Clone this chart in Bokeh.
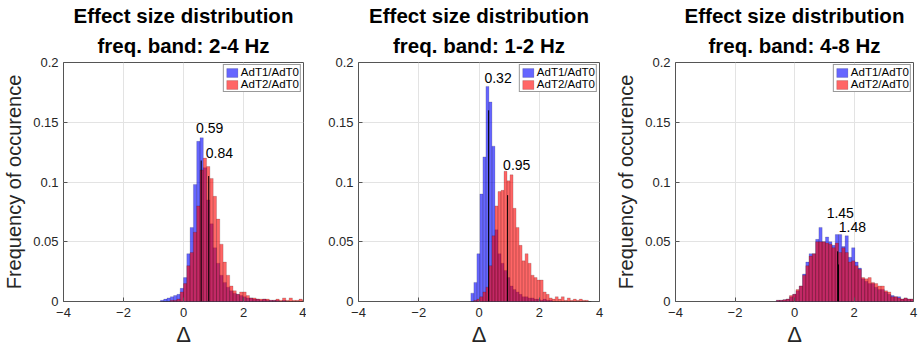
import numpy as np
from bokeh.plotting import figure
from bokeh.layouts import row
from bokeh.models import Range1d, Legend, LegendItem, FixedTicker, Title
from bokeh.core.properties import value
from bokeh.embed import file_html
from bokeh.resources import INLINE

FONT = "Liberation Sans"

# ---------------- data ----------------
bands = ["2-4 Hz", "1-2 Hz", "4-8 Hz"]
series_names = ["AdT1/AdT0", "AdT2/AdT0"]

# histogram bins: first left edge and bin width per panel
bin_start = [-0.77, -0.27, -0.61]
bin_width = [0.11, 0.10, 0.11]

# panel 1 : 2-4 Hz
p1_adt1 = [0.001, 0.002, 0.003, 0.004, 0.005, 0.006, 0.011, 0.020, 0.040, 0.062,
           0.098, 0.134, 0.137, 0.112, 0.085, 0.065, 0.045, 0.032, 0.022, 0.016,
           0.012, 0.009, 0.007, 0.006, 0.005, 0.004, 0.003, 0.003, 0.002, 0.002,
           0.001, 0.002, 0.001, 0.001, 0.001, 0.001, 0.000, 0.001, 0.000, 0.000,
           0.000, 0.000, 0.000, 0.000]
p1_adt2 = [0.000, 0.000, 0.000, 0.001, 0.001, 0.002, 0.008, 0.015, 0.030, 0.041,
           0.058, 0.080, 0.110, 0.120, 0.113, 0.103, 0.088, 0.069, 0.048, 0.033,
           0.022, 0.013, 0.009, 0.006, 0.008, 0.008, 0.005, 0.003, 0.003, 0.002,
           0.002, 0.002, 0.002, 0.001, 0.001, 0.002, 0.001, 0.003, 0.001, 0.003,
           0.001, 0.001, 0.002, 0.001]
# panel 2 : 1-2 Hz
p2_adt1 = [0.007, 0.016, 0.040, 0.090, 0.121, 0.180, 0.167, 0.130, 0.060, 0.040,
           0.032, 0.026, 0.020, 0.013, 0.010, 0.008, 0.006, 0.004, 0.004, 0.003,
           0.003, 0.002, 0.002, 0.001, 0.002, 0.001, 0.001, 0.000, 0.000, 0.000,
           0.000, 0.000, 0.000, 0.000, 0.000, 0.000, 0.000, 0.000, 0.000, 0.000]
p2_adt2 = [0.000, 0.001, 0.002, 0.004, 0.008, 0.012, 0.030, 0.055, 0.080, 0.092,
           0.093, 0.109, 0.101, 0.106, 0.078, 0.062, 0.047, 0.034, 0.040, 0.032,
           0.022, 0.020, 0.018, 0.018, 0.008, 0.006, 0.003, 0.002, 0.004, 0.002,
           0.004, 0.001, 0.003, 0.001, 0.002, 0.001, 0.002, 0.001, 0.001, 0.000]
# panel 3 : 4-8 Hz
p3_adt1 = [0.001, 0.001, 0.0015, 0.002, 0.004, 0.006, 0.009, 0.013, 0.023, 0.033,
           0.040, 0.040, 0.052, 0.062, 0.050, 0.054, 0.050, 0.047, 0.056, 0.056,
           0.046, 0.055, 0.037, 0.045, 0.033, 0.028, 0.019, 0.017, 0.015, 0.015,
           0.012, 0.010, 0.010, 0.008, 0.006, 0.005, 0.004, 0.004, 0.002, 0.003,
           0.002, 0.002]
p3_adt2 = [0.001, 0.001, 0.0015, 0.002, 0.005, 0.006, 0.010, 0.013, 0.022, 0.030,
           0.038, 0.040, 0.050, 0.050, 0.050, 0.049, 0.048, 0.045, 0.049, 0.041,
           0.045, 0.041, 0.033, 0.034, 0.030, 0.027, 0.020, 0.019, 0.020, 0.016,
           0.015, 0.013, 0.013, 0.009, 0.008, 0.004, 0.004, 0.003, 0.002, 0.003,
           0.002, 0.002]

adt1 = [p1_adt1, p2_adt1, p3_adt1]
adt2 = [p1_adt2, p2_adt2, p3_adt2]

# mean markers: value, height of black line, text label and its anchor
means = [[0.59, 0.84], [0.32, 0.95], [1.45, 1.48]]
mean_line_top = [[0.118, 0.105], [0.160, 0.089], [0.042, 0.031]]
mean_labels = [["0.59", "0.84"], ["0.32", "0.95"], ["1.45", "1.48"]]
label_x = [[0.42, 0.74], [0.18, 0.80], [1.08, 1.49]]
label_y = [[0.145, 0.124], [0.187, 0.114], [0.074, 0.062]]

x_ticks = [-4, -2, 0, 2, 4]
y_ticks = [0, 0.05, 0.1, 0.15, 0.2]
y_tick_labels = ["0", "0.05", "0.1", "0.15", "0.2"]

# ---------------- layout ----------------
fig_w = [306, 306, 307]
border_l = [63, 52, 59]
border_r = [3, 13, 6]
show_ylabel = [True, False, True]

BLUE = "#0000ff"
RED = "#ff0000"
TXT = "#262626"


def style_title(t, standoff):
    t.align = "center"
    t.text_font = FONT
    t.text_font_style = "bold"
    t.text_font_size = "20.5px"
    t.text_color = "black"
    t.text_line_height = 0.85
    t.standoff = standoff


def make_panel(i):
    p = figure(width=fig_w[i], height=349, x_range=Range1d(-4, 4), y_range=Range1d(0, 0.2),
               output_backend="svg", toolbar_location=None,
               min_border_left=border_l[i], min_border_right=border_r[i],
               min_border_top=62, min_border_bottom=46)
    p.title.text = "Effect size distribution"
    style_title(p.title, 0)
    t2 = Title(text="freq. band: " + bands[i])
    style_title(t2, 11)
    p.add_layout(t2, "above")

    p.background_fill_color = "white"
    p.border_fill_color = "white"
    p.outline_line_color = "#555555"
    p.outline_line_width = 1

    p.xgrid.grid_line_color = "#e3e3e3"
    p.ygrid.grid_line_color = "#e3e3e3"
    p.xgrid.ticker = FixedTicker(ticks=x_ticks)
    p.ygrid.ticker = FixedTicker(ticks=y_ticks)

    for ax in (p.xaxis[0], p.yaxis[0]):
        ax.axis_line_color = None
        ax.major_tick_in = 4
        ax.major_tick_out = 0
        ax.minor_tick_line_color = None
        ax.major_tick_line_color = "#555555"
        ax.major_label_text_font = FONT
        ax.major_label_text_font_size = "13px"
        ax.major_label_text_color = TXT
        ax.axis_label_text_font = FONT
        ax.axis_label_text_font_style = "normal"
        ax.axis_label_text_color = TXT

    p.xaxis.ticker = FixedTicker(ticks=x_ticks)
    p.yaxis.ticker = FixedTicker(ticks=y_ticks)
    p.yaxis.major_label_overrides = {t: s for t, s in zip(y_ticks, y_tick_labels)}
    p.xaxis.major_label_standoff = 6
    p.yaxis.major_label_standoff = 5
    p.xaxis.axis_label = "Δ"
    p.xaxis.axis_label_text_font_size = "22px"
    p.xaxis.axis_label_standoff = 2
    if show_ylabel[i]:
        p.yaxis.axis_label = "Frequency of occurence"
        p.yaxis.axis_label_text_font_size = "20px"
        p.yaxis.axis_label_standoff = 5

    n1 = len(adt1[i])
    left1 = bin_start[i] + bin_width[i] * np.arange(n1)
    r1 = p.quad(left=left1, right=left1 + bin_width[i], bottom=0, top=adt1[i],
                fill_color=BLUE, fill_alpha=0.6, line_color="black", line_alpha=0.3, line_width=0.5)
    n2 = len(adt2[i])
    left2 = bin_start[i] + bin_width[i] * np.arange(n2)
    r2 = p.quad(left=left2, right=left2 + bin_width[i], bottom=0, top=adt2[i],
                fill_color=RED, fill_alpha=0.6, line_color="black", line_alpha=0.3, line_width=0.5)

    p.segment(x0=means[i], y0=[0, 0], x1=means[i], y1=mean_line_top[i], line_color="black", line_width=1)
    p.text(x=label_x[i], y=label_y[i], text=mean_labels[i], text_font=value(FONT),
           text_font_size="14px", text_baseline="middle", text_align="left", text_color="black")

    legend = Legend(items=[LegendItem(label=series_names[0], renderers=[r1]),
                           LegendItem(label=series_names[1], renderers=[r2])],
                    location="top_right", margin=2, padding=1, spacing=0,
                    glyph_width=14, glyph_height=11, label_height=11, label_standoff=2,
                    label_text_font=FONT, label_text_font_size="11.5px", label_text_color="black",
                    border_line_color="#333333", border_line_width=1, background_fill_alpha=1)
    p.add_layout(legend)
    return p


panels = [make_panel(i) for i in range(3)]
layout = row(*panels, spacing=0)

open("out.html", "w").write(file_html(layout, INLINE))
